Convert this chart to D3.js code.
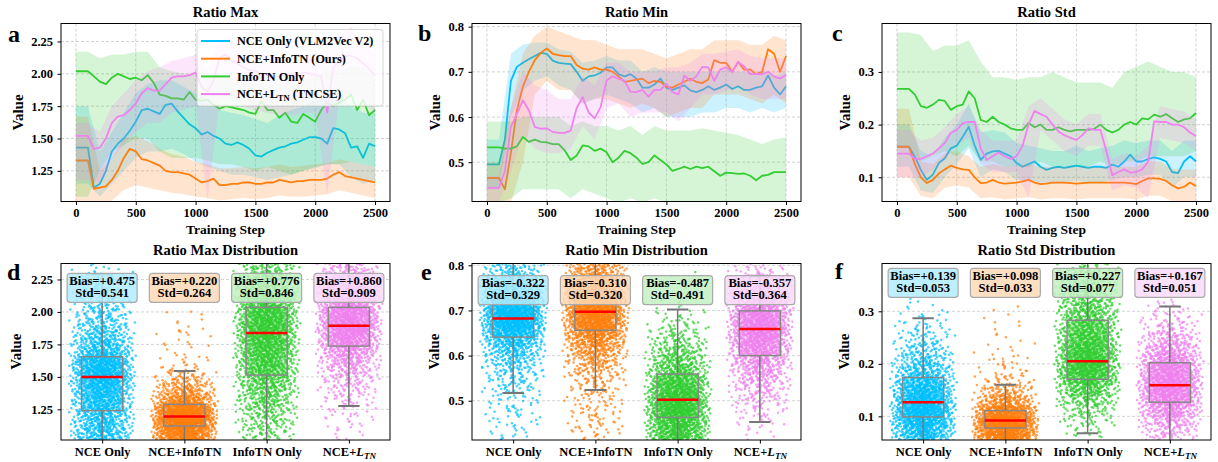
<!DOCTYPE html>
<html>
<head>
<meta charset="utf-8">
<script src="https://cdn.jsdelivr.net/npm/d3@7"></script>
<style>
  body { margin: 0; background: #fff; }
  svg { display: block; font-family: "Liberation Serif", "Times New Roman", serif; font-weight: bold; }
</style>
</head>
<body>
<div id="chart"></div>
<script>
// ---------- data ----------
var seriesNames = ["NCE Only (VLM2Vec V2)", "NCE+InfoTN (Ours)", "InfoTN Only", "NCE+L_TN (TNCSE)"];
var categories = ["NCE Only", "NCE+InfoTN", "InfoTN Only", "NCE+L_TN"];
var stepTicks = [0, 500, 1000, 1500, 2000, 2500];
var lineSteps = d3.range(0, 2501, 50);   // smoothed curves read every 50 steps
var bandSteps = d3.range(0, 2501, 100);  // shaded bands read every 100 steps

// Ratio Max (panel a)
var maxNce = [1.43,1.43,1.43,1.12,1.15,1.25,1.40,1.46,1.50,1.56,1.63,1.72,1.73,1.71,1.69,1.76,1.77,1.71,1.66,1.61,1.58,1.53,1.55,1.52,1.50,1.46,1.45,1.47,1.45,1.42,1.37,1.36,1.39,1.41,1.43,1.44,1.46,1.47,1.49,1.51,1.51,1.50,1.46,1.58,1.57,1.54,1.43,1.44,1.35,1.46,1.44];
var maxOurs = [1.33,1.33,1.33,1.11,1.12,1.13,1.18,1.25,1.35,1.42,1.40,1.34,1.33,1.31,1.29,1.25,1.24,1.24,1.23,1.22,1.19,1.16,1.17,1.19,1.14,1.14,1.15,1.15,1.16,1.16,1.15,1.15,1.16,1.16,1.18,1.17,1.16,1.17,1.17,1.18,1.18,1.18,1.19,1.22,1.24,1.21,1.20,1.19,1.18,1.17,1.16];
var maxInfo = [2.02,2.02,2.02,1.98,1.94,1.92,1.97,2.00,1.98,1.96,1.97,1.95,1.99,1.93,1.84,1.83,1.81,1.81,1.80,1.86,1.80,1.79,1.80,1.76,1.73,1.75,1.74,1.73,1.72,1.70,1.69,1.79,1.72,1.72,1.66,1.70,1.63,1.62,1.69,1.66,1.63,1.72,1.78,1.75,1.78,1.80,1.84,1.72,1.80,1.68,1.72];
var maxTncse = [1.52,1.52,1.52,1.42,1.43,1.50,1.62,1.67,1.68,1.72,1.77,1.85,1.89,1.87,1.87,1.92,1.97,1.98,1.98,1.99,2.01,1.90,1.86,1.95,2.12,2.15,2.10,2.08,2.05,2.03,2.02,2.00,1.99,1.98,1.98,1.99,2.00,1.99,2.01,2.00,1.99,1.98,1.70,2.05,2.10,2.14,2.14,2.12,2.08,2.04,1.99];
var maxNceHi = [1.75,1.75,1.40,1.55,1.70,1.85,1.92,1.95,1.95,1.90,1.85,1.80,1.72,1.70,1.68,1.65,1.62,1.68,1.72,1.75,1.80,1.85,1.85,1.75,1.70,1.70];
var maxNceLo = [1.15,1.15,1.05,1.15,1.25,1.35,1.40,1.40,1.42,1.38,1.32,1.28,1.25,1.22,1.22,1.20,1.18,1.20,1.22,1.25,1.27,1.30,1.30,1.20,1.15,1.18];
var maxOursHi = [1.67,1.67,1.25,1.35,1.50,1.52,1.48,1.42,1.38,1.36,1.32,1.30,1.27,1.27,1.28,1.27,1.28,1.30,1.28,1.29,1.30,1.31,1.34,1.32,1.30,1.28];
var maxOursLo = [1.00,1.00,0.98,1.02,1.10,1.14,1.12,1.10,1.08,1.07,1.05,1.04,1.02,1.03,1.04,1.03,1.04,1.06,1.05,1.05,1.06,1.07,1.10,1.08,1.06,1.04];
var maxInfoHi = [2.17,2.17,2.12,2.15,2.15,2.17,2.17,2.05,2.02,2.00,2.00,2.00,1.97,1.97,1.95,1.93,1.95,1.92,1.90,1.95,1.98,2.03,2.02,2.06,2.05,2.00];
var maxInfoLo = [1.05,1.05,1.25,1.40,1.45,1.50,1.50,1.40,1.35,1.35,1.35,1.33,1.30,1.30,1.28,1.25,1.28,1.25,1.22,1.25,1.28,1.30,1.30,1.32,1.30,1.28];
var maxTncseHi = [1.62,1.62,1.55,1.75,1.85,1.95,2.02,2.05,2.10,2.12,2.15,2.05,2.25,2.25,2.20,2.15,2.15,2.12,2.12,2.15,2.15,2.20,2.30,2.36,2.25,2.15];
var maxTncseLo = [1.18,1.18,1.15,1.35,1.45,1.55,1.62,1.62,1.70,1.72,1.75,1.02,1.80,1.80,1.75,1.72,1.70,1.68,1.68,1.70,1.70,1.07,1.80,1.85,1.78,1.70];

// Ratio Min (panel b)
var minNce = [.495,.495,.495,.55,.68,.711,.72,.728,.735,.742,.74,.725,.72,.718,.717,.70,.68,.69,.692,.698,.71,.71,.695,.69,.695,.685,.665,.665,.672,.685,.665,.66,.665,.67,.659,.655,.66,.668,.66,.665,.672,.662,.668,.66,.66,.665,.668,.692,.665,.65,.668];
var minOurs = [.465,.465,.465,.44,.52,.615,.667,.70,.726,.742,.752,.74,.737,.735,.735,.715,.707,.705,.71,.705,.705,.70,.69,.678,.68,.683,.685,.675,.68,.678,.667,.665,.672,.678,.685,.678,.675,.683,.726,.72,.72,.70,.722,.705,.705,.695,.70,.75,.74,.70,.735];
var minInfo = [.533,.533,.533,.53,.53,.535,.556,.545,.55,.545,.544,.54,.54,.526,.505,.515,.537,.535,.525,.53,.522,.50,.51,.525,.52,.51,.496,.50,.515,.505,.495,.481,.485,.49,.485,.49,.487,.49,.48,.47,.477,.476,.474,.475,.47,.46,.47,.472,.478,.478,.478];
var minTncse = [.443,.443,.443,.48,.578,.607,.637,.615,.578,.574,.575,.567,.565,.565,.57,.62,.644,.61,.597,.622,.681,.69,.685,.68,.656,.655,.66,.645,.66,.66,.674,.655,.65,.692,.68,.69,.711,.71,.68,.705,.71,.70,.722,.712,.695,.695,.695,.70,.69,.685,.693];
var minNceHi = [.55,.55,.74,.76,.765,.765,.75,.745,.72,.725,.735,.725,.725,.70,.71,.70,.70,.70,.70,.70,.705,.70,.70,.70,.69,.70];
var minNceLo = [.44,.44,.60,.66,.68,.69,.67,.66,.63,.64,.65,.64,.63,.61,.62,.60,.60,.60,.61,.61,.62,.62,.61,.62,.61,.62];
var minOursHi = [.50,.50,.62,.74,.78,.80,.79,.78,.77,.77,.76,.75,.75,.75,.74,.73,.74,.75,.75,.77,.77,.77,.76,.76,.78,.77];
var minOursLo = [.41,.41,.41,.50,.65,.68,.66,.66,.63,.64,.64,.63,.62,.63,.62,.60,.61,.62,.62,.65,.65,.65,.64,.63,.65,.63];
var minInfoHi = [.59,.59,.59,.60,.60,.60,.60,.58,.59,.58,.58,.57,.58,.56,.58,.57,.57,.57,.575,.57,.565,.56,.55,.54,.55,.555];
var minInfoLo = [.41,.41,.42,.44,.44,.44,.44,.42,.44,.43,.42,.41,.42,.41,.42,.41,.41,.41,.41,.41,.41,.41,.41,.41,.41,.41];
var minTncseHi = [.47,.47,.62,.70,.67,.66,.64,.64,.69,.67,.72,.72,.70,.70,.70,.71,.71,.72,.74,.74,.745,.75,.735,.73,.73,.73];
var minTncseLo = [.41,.41,.48,.56,.53,.52,.52,.53,.58,.55,.62,.63,.60,.61,.61,.61,.59,.62,.65,.65,.66,.67,.65,.64,.64,.64];

// Ratio Std (panel c)
var stdNce = [.158,.158,.158,.139,.114,.095,.105,.127,.136,.155,.16,.177,.196,.16,.133,.145,.149,.15,.145,.14,.127,.12,.125,.13,.12,.114,.118,.12,.118,.12,.122,.12,.118,.12,.12,.118,.124,.12,.13,.143,.13,.13,.135,.138,.135,.13,.11,.108,.13,.14,.13];
var stdOurs = [.158,.158,.158,.125,.10,.089,.095,.107,.115,.122,.118,.115,.114,.10,.089,.09,.095,.09,.088,.089,.09,.092,.095,.09,.087,.088,.09,.09,.09,.089,.088,.089,.09,.09,.09,.09,.09,.09,.09,.089,.087,.093,.098,.098,.097,.093,.085,.079,.082,.09,.083];
var stdInfo = [.268,.268,.268,.257,.235,.232,.238,.247,.245,.228,.235,.238,.263,.25,.209,.205,.215,.205,.20,.193,.19,.19,.203,.195,.20,.19,.19,.195,.19,.187,.19,.19,.19,.192,.20,.19,.185,.19,.20,.205,.20,.212,.21,.219,.215,.22,.212,.205,.21,.212,.222];
var stdTncse = [.145,.145,.145,.135,.135,.14,.145,.155,.165,.184,.19,.203,.205,.205,.155,.133,.14,.147,.14,.135,.14,.16,.20,.226,.22,.215,.20,.187,.18,.175,.171,.18,.193,.19,.19,.15,.104,.11,.115,.109,.11,.115,.13,.206,.205,.205,.20,.20,.195,.185,.178];
var stdNceHi = [.20,.20,.15,.14,.175,.20,.24,.185,.19,.185,.165,.16,.155,.15,.15,.16,.15,.155,.16,.17,.165,.17,.17,.15,.17,.17];
var stdNceLo = [.12,.12,.075,.07,.10,.125,.155,.10,.115,.11,.095,.095,.09,.088,.088,.095,.088,.09,.095,.10,.10,.105,.105,.08,.10,.10];
var stdOursHi = [.23,.23,.13,.125,.145,.15,.14,.12,.125,.12,.12,.125,.12,.12,.12,.12,.12,.12,.12,.12,.12,.13,.13,.115,.115,.115];
var stdOursLo = [.10,.10,.065,.06,.08,.085,.08,.06,.062,.058,.06,.062,.058,.06,.06,.058,.06,.06,.06,.06,.058,.065,.065,.055,.055,.055];
var stdInfoHi = [.375,.375,.37,.34,.35,.35,.36,.32,.29,.29,.285,.29,.29,.30,.29,.28,.28,.28,.27,.30,.31,.32,.31,.30,.30,.29];
var stdInfoLo = [.16,.16,.13,.14,.15,.14,.16,.13,.13,.12,.12,.12,.13,.12,.12,.12,.12,.13,.12,.13,.13,.14,.14,.14,.14,.15];
var stdTncseHi = [.19,.19,.17,.175,.195,.22,.235,.19,.17,.17,.17,.235,.25,.23,.21,.20,.22,.22,.135,.145,.14,.16,.235,.23,.225,.21];
var stdTncseLo = [.10,.10,.10,.115,.135,.16,.175,.125,.11,.11,.11,.06,.19,.17,.15,.14,.16,.16,.075,.085,.08,.06,.175,.17,.165,.15];

// box stats per category: [q1, median, q3, whiskerLow, whiskerHigh]
var boxMax = [[1.24,1.50,1.655,0.85,2.29],[1.122,1.194,1.288,0.85,1.545],[1.514,1.837,2.035,0.85,2.60],[1.737,1.894,2.035,1.276,2.60]];
var boxMin = [[.641,.682,.724,.517,.90],[.656,.697,.745,.524,.90],[.463,.502,.559,.30,.702],[.60,.659,.699,.453,.776]];
var boxStd = [[.099,.127,.174,0,.287],[.078,.092,.111,0,.16],[.1705,.205,.283,.068,.50],[.127,.159,.202,0,.309]];

// scatter density: point counts per value bin (bins start at binStart, step binWidth)
var binMaxStart = 1.00, binMaxWidth = 0.05;
var binMaxNce = [90,90,90,95,100,100,110,120,135,150,165,160,150,125,95,80,65,55,45,40,35,30,25,20,15,12,8,3];
var binMaxOurs = [200,230,300,330,290,220,140,90,60,40,25,12,6,5,4,4,5,4,3,2,1,0,0,0,0,1,0,0];
var binMaxInfo = [25,30,35,40,45,55,60,70,80,90,100,105,110,115,125,135,145,150,150,145,135,120,100,85,70,60,50,40];
var binMaxTncse = [4,5,6,8,10,14,18,22,28,35,45,55,70,90,115,140,165,185,190,180,160,135,110,90,70,55,45,35];
var binMinStart = 0.40, binMinWidth = 0.02;
var binMinNce = [8,10,12,14,16,20,30,40,50,70,100,150,230,300,320,280,220,150,100,60,30];
var binMinOurs = [12,15,18,20,20,22,30,40,55,75,105,150,210,270,300,290,250,190,140,100,60];
var binMinInfo = [180,210,240,260,270,250,210,170,130,100,75,55,35,22,12,5,2,1,1,1,0];
var binMinTncse = [3,6,10,18,28,40,55,75,100,130,170,210,240,250,230,190,140,100,60,25,5];
var binStdStart = 0.04, binStdWidth = 0.02;
var binStdNce = [140,230,300,320,280,220,170,120,80,55,35,22,12,6,3,1,1,0];
var binStdOurs = [300,420,480,320,150,70,30,15,10,6,4,3,3,2,0,0,0,0];
var binStdInfo = [0,15,30,50,90,150,230,280,270,230,190,160,140,120,95,70,50,35];
var binStdTncse = [30,60,100,170,250,300,290,250,190,130,80,45,25,12,5,2,1,0];

var biasMax = ["+0.475","+0.220","+0.776","+0.860"], sdMax = ["0.541","0.264","0.846","0.909"];
var biasMin = ["-0.322","-0.310","-0.487","-0.357"], sdMin = ["0.329","0.320","0.491","0.364"];
var biasStd = ["+0.139","+0.098","+0.227","+0.167"], sdStd = ["0.053","0.033","0.077","0.051"];

// ---------- layout ----------
var svgWidth = 1218, svgHeight = 462;
var colors = ["#00BFFF", "#FF7F0E", "#32CD32", "#EE82EE"];
var panelWidth = 329;
var topRow = { top: 23.5, height: 178 };
var botRow = { top: 263.5, height: 176.5 };

var svg = d3.select("#chart").append("svg")
  .attr("width", svgWidth)
  .attr("height", svgHeight);

function styleAxis(sel) {
  sel.select(".domain").remove();
  sel.selectAll(".tick line").attr("stroke", "#000").attr("stroke-width", 1);
  sel.selectAll(".tick text")
    .attr("fill", "#000")
    .attr("font-size", "12.5px")
    .attr("font-weight", "bold")
    .attr("font-family", '"Liberation Serif", "Times New Roman", serif');
}

function grid(g, y, ticks, w) {
  g.append("g").selectAll("line").data(ticks).enter().append("line")
    .attr("x1", 0).attr("x2", w)
    .attr("y1", d => y(d)).attr("y2", d => y(d))
    .attr("stroke", "#bbb").attr("stroke-width", 0.8)
    .attr("stroke-dasharray", "3,2").attr("opacity", 0.8);
}

function frameAndLabels(g, p, w, h, rowTop) {
  g.append("rect").attr("width", w).attr("height", h)
    .attr("fill", "none").attr("stroke", "#000").attr("stroke-width", 1);
  svg.append("text")
    .attr("x", p.left + w / 2).attr("y", p.titleY)
    .attr("text-anchor", "middle").attr("font-size", "14.5px")
    .text(p.title);
  var ly = rowTop + h / 2;
  svg.append("text")
    .attr("transform", `translate(${p.left + p.yLabelDx},${ly}) rotate(-90)`)
    .attr("text-anchor", "middle").attr("font-size", "15px")
    .text("Value");
  svg.append("text")
    .attr("x", p.letterX).attr("y", p.letterY)
    .attr("font-size", "24px")
    .text(p.letter);
}

// ---------- line panels ----------
function linePanel(p) {
  var w = panelWidth, h = topRow.height;
  var g = svg.append("g").attr("transform", `translate(${p.left}, ${topRow.top})`);
  var x = d3.scaleLinear().domain([-125, 2625]).range([0, w]);
  var y = d3.scaleLinear().domain(p.yDomain).range([h, 0]);

  g.append("clipPath").attr("id", "clip-" + p.letter)
    .append("rect").attr("width", w).attr("height", h);

  g.append("g").selectAll("line").data(stepTicks).enter().append("line")
    .attr("x1", d => x(d)).attr("x2", d => x(d))
    .attr("y1", 0).attr("y2", h)
    .attr("stroke", "#bbb").attr("stroke-width", 0.8)
    .attr("stroke-dasharray", "3,2").attr("opacity", 0.8);
  grid(g, y, p.yTicks, w);

  var plot = g.append("g").attr("clip-path", `url(#clip-${p.letter})`);
  p.lines.forEach(function(vals, i) {
    var area = d3.area()
      .x((d, j) => x(bandSteps[j]))
      .y0((d, j) => y(p.lo[i][j]))
      .y1(d => y(d));
    plot.append("path").datum(p.hi[i])
      .attr("d", area)
      .attr("fill", colors[i]).attr("fill-opacity", 0.2);
    var line = d3.line()
      .x((d, j) => x(lineSteps[j]))
      .y(d => y(d));
    plot.append("path").datum(vals)
      .attr("d", line)
      .attr("fill", "none").attr("stroke", colors[i])
      .attr("stroke-width", 1.8).attr("stroke-linejoin", "round");
  });

  var xAxis = g.append("g").attr("transform", `translate(0, ${h})`)
    .call(d3.axisBottom(x).tickValues(stepTicks).tickFormat(d3.format("d")).tickSize(3.5).tickPadding(3));
  styleAxis(xAxis);
  var yAxis = g.append("g")
    .call(d3.axisLeft(y).tickValues(p.yTicks).tickFormat(d3.format(p.fmt)).tickSize(3.5).tickPadding(4.5));
  styleAxis(yAxis);

  svg.append("text")
    .attr("x", p.left + w / 2).attr("y", 234)
    .attr("text-anchor", "middle").attr("font-size", "13.5px")
    .text("Training Step");

  frameAndLabels(g, p, w, h, topRow.top);

  if (p.legend) {
    var lg = g.append("g").attr("transform", "translate(136, 6)");
    lg.append("rect").attr("width", 186).attr("height", 76.5).attr("rx", 3)
      .attr("fill", "#fff").attr("fill-opacity", 0.8)
      .attr("stroke", "#ccc").attr("stroke-width", 0.8);
    seriesNames.forEach(function(name, i) {
      var yy = 11.5 + i * 17.7;
      lg.append("line").attr("x1", 4).attr("x2", 33).attr("y1", yy).attr("y2", yy)
        .attr("stroke", colors[i]).attr("stroke-width", 2);
      var t = lg.append("text").attr("x", 40).attr("y", yy + 4.3).attr("font-size", "12.2px");
      if (name.indexOf("L_TN") >= 0) {
        t.append("tspan").text("NCE+L");
        t.append("tspan").attr("font-size", "8.5px").attr("dy", 3).text("TN");
        t.append("tspan").attr("dy", -3).text(" (TNCSE)");
      } else {
        t.text(name);
      }
    });
  }
}

// ---------- distribution panels ----------
function halton(i, b) {
  var f = 1, r = 0;
  while (i > 0) { f = f / b; r += f * (i % b); i = Math.floor(i / b); }
  return r;
}

function boxPanel(p) {
  var w = panelWidth, h = botRow.height;
  var g = svg.append("g").attr("transform", `translate(${p.left}, ${botRow.top})`);
  var x = d3.scaleLinear().domain([0.5, 4.5]).range([0, w]);
  var y = d3.scaleLinear().domain(p.yDomain).range([h, 0]);

  g.append("clipPath").attr("id", "clip-" + p.letter)
    .append("rect").attr("width", w).attr("height", h);
  grid(g, y, p.yTicks, w);

  var plot = g.append("g").attr("clip-path", `url(#clip-${p.letter})`);

  // jittered points, one bin at a time
  p.bins.forEach(function(counts, i) {
    var pts = [];
    var k = 1;
    counts.forEach(function(c, b) {
      var lo = p.binStart + b * p.binWidth;
      for (var n = 0; n < c; n++, k++) {
        pts.push({
          v: lo + halton(k, 3) * p.binWidth,
          dx: (halton(k, 2) + halton(k, 5) - 1) * 0.42
        });
      }
    });
    plot.append("g").selectAll("circle").data(pts).enter().append("circle")
      .attr("cx", d => x(i + 1 + d.dx))
      .attr("cy", d => y(d.v))
      .attr("r", 1.25)
      .attr("fill", colors[i])
      .attr("fill-opacity", 0.72);
  });

  p.boxes.forEach(function(s, i) {
    var cx = x(i + 1);
    var half = x(1.25) - x(1);
    var cap = x(1.13) - x(1);
    var bg = plot.append("g");
    bg.append("line").attr("x1", cx).attr("x2", cx).attr("y1", y(s[0])).attr("y2", y(s[3]))
      .attr("stroke", "#777").attr("stroke-width", 1.5);
    bg.append("line").attr("x1", cx).attr("x2", cx).attr("y1", y(s[2])).attr("y2", y(s[4]))
      .attr("stroke", "#777").attr("stroke-width", 1.5);
    [s[3], s[4]].forEach(function(v) {
      bg.append("line").attr("x1", cx - cap).attr("x2", cx + cap).attr("y1", y(v)).attr("y2", y(v))
        .attr("stroke", "#777").attr("stroke-width", 2);
    });
    bg.append("rect")
      .attr("x", cx - half).attr("width", 2 * half)
      .attr("y", y(s[2])).attr("height", y(s[0]) - y(s[2]))
      .attr("fill", colors[i]).attr("fill-opacity", 0.3)
      .attr("stroke", "#888").attr("stroke-width", 1.5);
    bg.append("line").attr("x1", cx - half).attr("x2", cx + half).attr("y1", y(s[1])).attr("y2", y(s[1]))
      .attr("stroke", "red").attr("stroke-width", 2.5);
  });

  // Bias / Std labels
  p.bias.forEach(function(b, i) {
    var ag = g.append("g").attr("transform", `translate(${x(i + 1)}, ${p.annTop})`);
    ag.append("rect").attr("x", -35).attr("width", 70).attr("height", 29).attr("rx", 3)
      .attr("fill", d3.interpolateRgb(colors[i], "#fff")(0.7)).attr("fill-opacity", 0.85)
      .attr("stroke", "#aaa").attr("stroke-width", 1.2);
    ag.append("text").attr("y", 11.8).attr("text-anchor", "middle").attr("font-size", "12.6px")
      .text("Bias=" + b);
    ag.append("text").attr("y", 23.6).attr("text-anchor", "middle").attr("font-size", "12.6px")
      .text("Std=" + p.sd[i]);
  });

  var xAxis = g.append("g").attr("transform", `translate(0, ${h})`)
    .call(d3.axisBottom(x).tickValues([1, 2, 3, 4]).tickFormat(d => categories[d - 1]).tickSize(3.5).tickPadding(4));
  styleAxis(xAxis);
  xAxis.selectAll(".tick text").each(function(d) {
    if (categories[d - 1] === "NCE+L_TN") {
      var t = d3.select(this).text("");
      t.append("tspan").text("NCE+");
      t.append("tspan").attr("font-style", "italic").text("L");
      t.append("tspan").attr("font-style", "italic").attr("font-size", "9px").attr("dy", 3).text("TN");
    }
  });
  var yAxis = g.append("g")
    .call(d3.axisLeft(y).tickValues(p.yTicks).tickFormat(d3.format(p.fmt)).tickSize(3.5).tickPadding(4.5));
  styleAxis(yAxis);

  frameAndLabels(g, p, w, h, botRow.top);
}

linePanel({ letter: "a", title: "Ratio Max", left: 61, yDomain: [1.013, 2.389], yTicks: [1.25, 1.5, 1.75, 2.0, 2.25], fmt: ".2f",
  lines: [maxNce, maxOurs, maxInfo, maxTncse], hi: [maxNceHi, maxOursHi, maxInfoHi, maxTncseHi], lo: [maxNceLo, maxOursLo, maxInfoLo, maxTncseLo],
  legend: true, titleY: 16.5, yLabelDx: -38, letterX: 8, letterY: 42 });
linePanel({ letter: "b", title: "Ratio Min", left: 472, yDomain: [0.413, 0.807], yTicks: [0.5, 0.6, 0.7, 0.8], fmt: ".1f",
  lines: [minNce, minOurs, minInfo, minTncse], hi: [minNceHi, minOursHi, minInfoHi, minTncseHi], lo: [minNceLo, minOursLo, minInfoLo, minTncseLo],
  titleY: 16.5, yLabelDx: -32.5, letterX: 418, letterY: 41 });
linePanel({ letter: "c", title: "Ratio Std", left: 882, yDomain: [0.054, 0.392], yTicks: [0.1, 0.2, 0.3], fmt: ".1f",
  lines: [stdNce, stdOurs, stdInfo, stdTncse], hi: [stdNceHi, stdOursHi, stdInfoHi, stdTncseHi], lo: [stdNceLo, stdOursLo, stdInfoLo, stdTncseLo],
  titleY: 16.5, yLabelDx: -32.5, letterX: 832, letterY: 41 });

boxPanel({ letter: "d", title: "Ratio Max Distribution", left: 61, yDomain: [1.014, 2.373], yTicks: [1.25, 1.5, 1.75, 2.0, 2.25], fmt: ".2f",
  bins: [binMaxNce, binMaxOurs, binMaxInfo, binMaxTncse], binStart: binMaxStart, binWidth: binMaxWidth,
  boxes: boxMax, bias: biasMax, sd: sdMax, annTop: 9.8, titleY: 254.5, yLabelDx: -40, letterX: 7, letterY: 280 });
boxPanel({ letter: "e", title: "Ratio Min Distribution", left: 472, yDomain: [0.413, 0.804], yTicks: [0.5, 0.6, 0.7, 0.8], fmt: ".1f",
  bins: [binMinNce, binMinOurs, binMinInfo, binMinTncse], binStart: binMinStart, binWidth: binMinWidth,
  boxes: boxMin, bias: biasMin, sd: sdMin, annTop: 12.2, titleY: 254.5, yLabelDx: -33.5, letterX: 421, letterY: 280 });
boxPanel({ letter: "f", title: "Ratio Std Distribution", left: 882, yDomain: [0.055, 0.391], yTicks: [0.1, 0.2, 0.3], fmt: ".1f",
  bins: [binStdNce, binStdOurs, binStdInfo, binStdTncse], binStart: binStdStart, binWidth: binStdWidth,
  boxes: boxStd, bias: biasStd, sd: sdStd, annTop: 4.8, titleY: 254.5, yLabelDx: -33.5, letterX: 835, letterY: 279 });
</script>
</body>
</html>
